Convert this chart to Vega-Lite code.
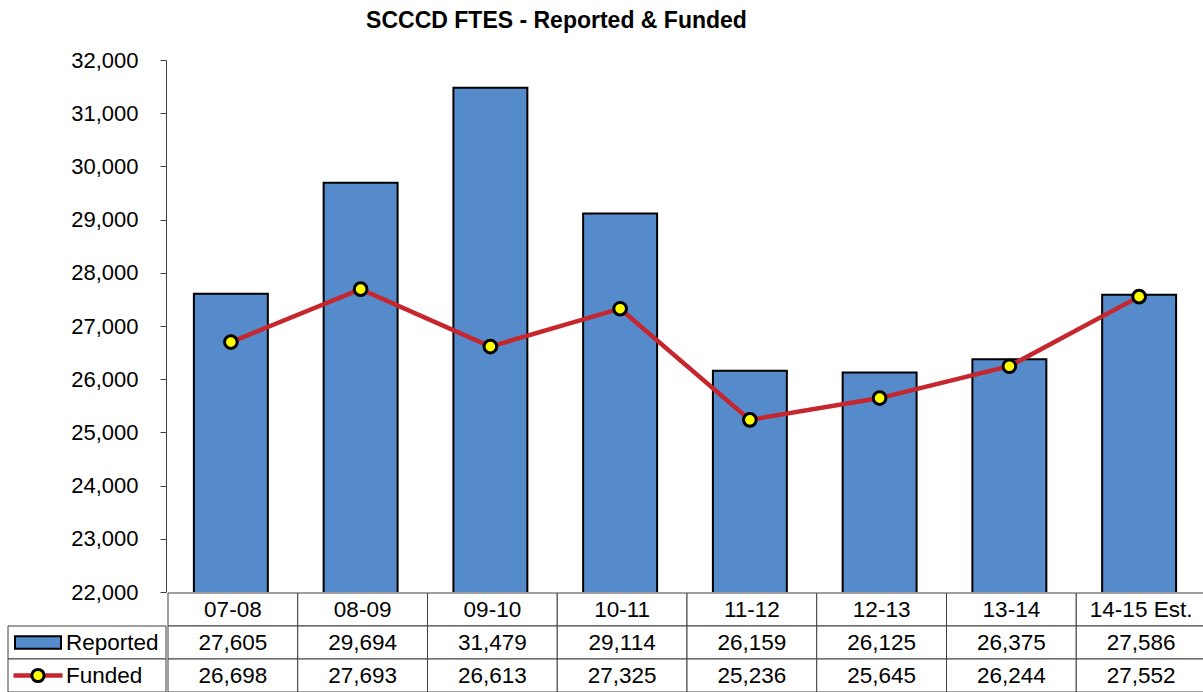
{
  "$schema": "https://vega.github.io/schema/vega-lite/v6.json",
  "padding": {"left": 4, "top": 10, "right": 0, "bottom": 0},
  "autosize": {"type": "pad"},
  "background": "white",
  "title": {"text": "SCCCD FTES - Reported & Funded", "font": "Liberation Sans", "fontSize": 23, "fontWeight": "bold", "color": "#000", "anchor": "middle", "dx": -49, "offset": 16},
  "columns": 1,
  "spacing": -11,
  "align": "none",
  "config": {"view": {"stroke": null}, "font": "Liberation Sans", "concat": {"spacing": 0}},
  "datasets": {
    "fte": [
      {"year": "07-08", "Reported": 27605, "Funded": 26698},
      {"year": "08-09", "Reported": 29694, "Funded": 27693},
      {"year": "09-10", "Reported": 31479, "Funded": 26613},
      {"year": "10-11", "Reported": 29114, "Funded": 27325},
      {"year": "11-12", "Reported": 26159, "Funded": 25236},
      {"year": "12-13", "Reported": 26125, "Funded": 25645},
      {"year": "13-14", "Reported": 26375, "Funded": 26244},
      {"year": "14-15 Est.", "Reported": 27586, "Funded": 27552}
    ]
  },
  "concat": [
    {
      "width": 1038,
      "height": 532,
      "data": {"name": "fte"},
      "encoding": {
        "x": {"field": "year", "type": "ordinal", "sort": null, "axis": null, "scale": {"paddingInner": 0.43, "paddingOuter": 0.215}}
      },
      "layer": [
        {
          "mark": {"type": "bar", "fill": "#558ACB", "stroke": "#000", "strokeWidth": 2, "clip": true},
          "encoding": {
            "y": {
              "field": "Reported", "type": "quantitative",
              "scale": {"domain": [22000, 32000], "zero": false, "nice": false},
              "axis": {
                "title": null, "grid": false, "format": ",.0f",
                "values": [22000, 23000, 24000, 25000, 26000, 27000, 28000, 29000, 30000, 31000, 32000],
                "labelFont": "Liberation Sans", "labelFontSize": 22, "labelColor": "#000",
                "tickSize": 6, "tickColor": "#404040", "domainColor": "#404040",
                "labelPadding": 22, "minExtent": 158, "maxExtent": 158
              }
            }
          }
        },
        {
          "mark": {"type": "line", "color": "#C6262E", "strokeWidth": 4.5},
          "encoding": {"y": {"field": "Funded", "type": "quantitative"}}
        },
        {
          "mark": {"type": "point", "filled": true, "fill": "#FFFF00", "stroke": "#000", "strokeWidth": 3, "size": 160, "opacity": 1},
          "encoding": {"y": {"field": "Funded", "type": "quantitative"}}
        }
      ]
    },
    {
      "spacing": -1,
      "hconcat": [
        {
          "width": 1,
          "height": 99,
          "data": {"values": [{"row": "Reported"}, {"row": "Funded"}]},
          "encoding": {
            "y": {"field": "row", "type": "nominal", "scale": {"domain": ["Year", "Reported", "Funded"], "paddingInner": 0, "paddingOuter": 0}, "axis": null}
          },
          "layer": [
            {"mark": {"type": "point", "shape": "M-1,-0.2089H1V0.2089H-1Z", "size": 24964, "filled": true, "fill": "white", "stroke": "#404040", "strokeWidth": 1, "xOffset": -79.5, "opacity": 1}},
            {
              "transform": [{"filter": "datum.row === 'Reported'"}],
              "mark": {"type": "point", "shape": "M-1,-0.27H1V0.27H-1Z", "size": 2116, "filled": true, "fill": "#558ACB", "stroke": "#000", "strokeWidth": 2, "xOffset": -128.5, "opacity": 1}
            },
            {
              "transform": [{"filter": "datum.row === 'Funded'"}],
              "mark": {"type": "point", "shape": "M-1,0H1", "size": 2401, "filled": false, "stroke": "#C6262E", "strokeWidth": 4.5, "xOffset": -128.5, "opacity": 1}
            },
            {
              "transform": [{"filter": "datum.row === 'Funded'"}],
              "mark": {"type": "point", "shape": "circle", "size": 150, "filled": true, "fill": "#FFFF00", "stroke": "#000", "strokeWidth": 3, "xOffset": -128.5, "opacity": 1}
            },
            {
              "mark": {"type": "text", "align": "left", "baseline": "middle", "fontSize": 22.5, "xOffset": -100.5, "color": "#000", "font": "Liberation Sans"},
              "encoding": {"text": {"field": "row"}}
            }
          ]
        },
        {
          "width": 1038,
          "height": 99,
          "data": {"name": "fte"},
          "encoding": {
            "x": {"field": "year", "type": "ordinal", "sort": null, "axis": null, "scale": {"paddingInner": 0, "paddingOuter": 0}}
          },
          "layer": [
            {
              "mark": {"type": "rect", "fill": "white", "stroke": "#404040", "strokeWidth": 1},
              "encoding": {"y": {"datum": "Year", "type": "nominal", "scale": {"domain": ["Year", "Reported", "Funded"], "paddingInner": 0, "paddingOuter": 0}, "axis": null}}
            },
            {
              "mark": {"type": "text", "baseline": "middle", "fontSize": 22.5, "color": "#000", "font": "Liberation Sans"},
              "encoding": {"y": {"datum": "Year", "type": "nominal"}, "text": {"field": "year"}}
            },
            {
              "transform": [{"fold": ["Reported", "Funded"], "as": ["row", "value"]}],
              "layer": [
                {
                  "mark": {"type": "rect", "fill": "white", "stroke": "#404040", "strokeWidth": 1},
                  "encoding": {"y": {"field": "row", "type": "nominal"}}
                },
                {
                  "mark": {"type": "text", "baseline": "middle", "fontSize": 22.5, "color": "#000", "font": "Liberation Sans"},
                  "encoding": {"y": {"field": "row", "type": "nominal"}, "text": {"field": "value", "type": "quantitative", "format": ","}}
                }
              ]
            }
          ]
        }
      ]
    }
  ]
}
